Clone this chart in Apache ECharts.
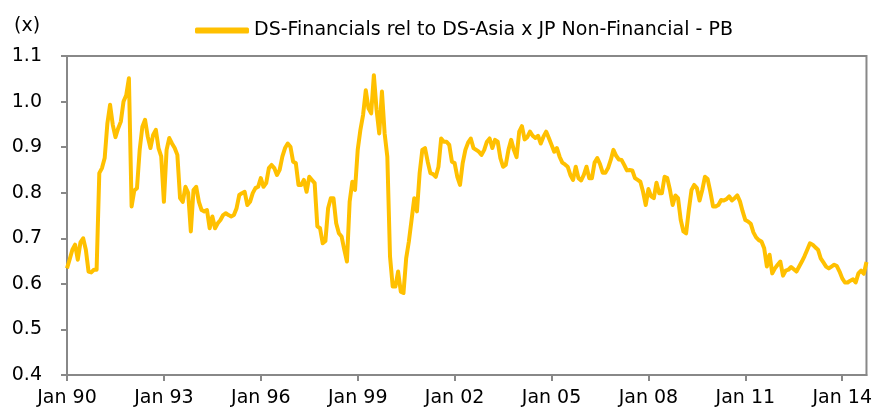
<!DOCTYPE html>
<html>
<head>
<meta charset="utf-8">
<script src="https://cdn.jsdelivr.net/npm/echarts@6/dist/echarts.min.js"></script>
<style>
  html, body { margin: 0; padding: 0; background: #fff; }
  #chart { width: 875px; height: 410px; }
</style>
</head>
<body>
<div id="chart"></div>
<script>
// monthly, Jan 1990 .. Oct 2014
const startYear = 1990
const monthCount = 298
const seriesName = 'DS-Financials rel to DS-Asia x JP Non-Financial - PB'

const pbValues = [
  0.634, 0.654, 0.675, 0.686, 0.653, 0.691, 0.700, 0.675, 0.627, 0.625, 0.631, 0.631,
  0.843, 0.854, 0.876, 0.952, 0.993, 0.949, 0.922, 0.941, 0.956, 1.000, 1.014, 1.051,
  0.770, 0.805, 0.810, 0.894, 0.945, 0.960, 0.923, 0.898, 0.927, 0.938, 0.898, 0.880,
  0.780, 0.894, 0.920, 0.908, 0.898, 0.883, 0.788, 0.780, 0.813, 0.800, 0.715, 0.806,
  0.813, 0.780, 0.762, 0.759, 0.762, 0.722, 0.748, 0.722, 0.733, 0.740, 0.751, 0.755,
  0.751, 0.748, 0.751, 0.766, 0.795, 0.799, 0.802, 0.773, 0.780, 0.799, 0.810, 0.813,
  0.832, 0.813, 0.821, 0.854, 0.861, 0.854, 0.839, 0.850, 0.879, 0.898, 0.908, 0.901,
  0.868, 0.865, 0.817, 0.817, 0.828, 0.802, 0.835, 0.828, 0.821, 0.726, 0.722, 0.689,
  0.694, 0.766, 0.788, 0.788, 0.733, 0.711, 0.704, 0.675, 0.649, 0.780, 0.824, 0.806,
  0.894, 0.938, 0.971, 1.025, 0.985, 0.974, 1.058, 0.982, 0.930, 1.022, 0.930, 0.879,
  0.660, 0.594, 0.594, 0.627, 0.583, 0.580, 0.656, 0.693, 0.740, 0.788, 0.759, 0.843,
  0.894, 0.898, 0.868, 0.843, 0.841, 0.835, 0.857, 0.919, 0.912, 0.912, 0.905, 0.868,
  0.865, 0.835, 0.817, 0.865, 0.894, 0.910, 0.919, 0.898, 0.894, 0.890, 0.883, 0.894,
  0.912, 0.919, 0.898, 0.916, 0.912, 0.876, 0.857, 0.861, 0.894, 0.916, 0.894, 0.878,
  0.934, 0.946, 0.917, 0.922, 0.934, 0.925, 0.920, 0.925, 0.908, 0.923, 0.934, 0.920,
  0.905, 0.890, 0.898, 0.879, 0.866, 0.862, 0.857, 0.839, 0.828, 0.857, 0.832, 0.827,
  0.839, 0.857, 0.832, 0.832, 0.866, 0.876, 0.863, 0.844, 0.844, 0.854, 0.872, 0.894,
  0.881, 0.873, 0.872, 0.861, 0.849, 0.850, 0.849, 0.832, 0.828, 0.824, 0.802, 0.773,
  0.808, 0.792, 0.788, 0.822, 0.799, 0.799, 0.835, 0.832, 0.806, 0.773, 0.794, 0.788,
  0.740, 0.715, 0.711, 0.762, 0.806, 0.817, 0.810, 0.783, 0.806, 0.835, 0.830, 0.802,
  0.770, 0.770, 0.773, 0.784, 0.783, 0.786, 0.792, 0.783, 0.788, 0.794, 0.781, 0.759,
  0.740, 0.737, 0.732, 0.713, 0.702, 0.696, 0.693, 0.678, 0.638, 0.664, 0.623, 0.634,
  0.642, 0.649, 0.618, 0.629, 0.631, 0.637, 0.632, 0.627, 0.638, 0.649, 0.661, 0.675,
  0.689, 0.686, 0.680, 0.675, 0.656, 0.647, 0.638, 0.634, 0.638, 0.642, 0.639, 0.627,
  0.612, 0.603, 0.603, 0.607, 0.610, 0.603, 0.623, 0.629, 0.622, 0.648
]

const monthNames = ['Jan', 'Feb', 'Mar', 'Apr', 'May', 'Jun', 'Jul', 'Aug', 'Sep', 'Oct', 'Nov', 'Dec']
const months = []
for (let i = 0; i < monthCount; i++) {
  const y = startYear + Math.floor(i / 12)
  months.push(monthNames[i % 12] + ' ' + String(y % 100).padStart(2, '0'))
}

const font = 'DejaVu Sans'
const fontSize = 19
const chart = echarts.init(document.getElementById('chart'))

chart.setOption({
  animation: false,
  textStyle: { fontFamily: font },
  graphic: [
    {
      type: 'text',
      left: 14,
      top: 17,
      style: { text: '(x)', font: fontSize + 'px ' + font, fill: '#000' }
    }
  ],
  legend: {
    left: 190,
    top: 16,
    itemWidth: 54,
    itemHeight: 6,
    itemGap: 5,
    icon: 'roundRect',
    textStyle: { color: '#000', fontSize: fontSize, fontFamily: font },
    data: [seriesName]
  },
  grid: {
    left: 67,
    right: 7,
    top: 56,
    bottom: 35,
    show: true,
    borderColor: '#888',
    borderWidth: 2
  },
  xAxis: {
    type: 'category',
    data: months,
    boundaryGap: false,
    axisLine: { lineStyle: { color: '#888', width: 2 } },
    axisTick: { interval: 35, length: 6, lineStyle: { color: '#888', width: 2 } },
    axisLabel: { interval: 35, color: '#000', fontSize: fontSize, margin: 14, fontFamily: font },
    splitLine: { show: false }
  },
  yAxis: {
    type: 'value',
    min: 0.4,
    max: 1.1,
    interval: 0.1,
    axisLine: { show: true, lineStyle: { color: '#888', width: 2 } },
    axisTick: { show: true, length: 6, lineStyle: { color: '#888', width: 2 } },
    axisLabel: {
      color: '#000',
      fontSize: fontSize,
      margin: 25,
      fontFamily: font,
      formatter: v => v.toFixed(1)
    },
    splitLine: { show: false }
  },
  series: [
    {
      name: seriesName,
      type: 'line',
      data: pbValues,
      symbol: 'none',
      lineStyle: { color: '#FFC000', width: 4, join: 'round' },
      itemStyle: { color: '#FFC000' }
    }
  ]
})
</script>
</body>
</html>
